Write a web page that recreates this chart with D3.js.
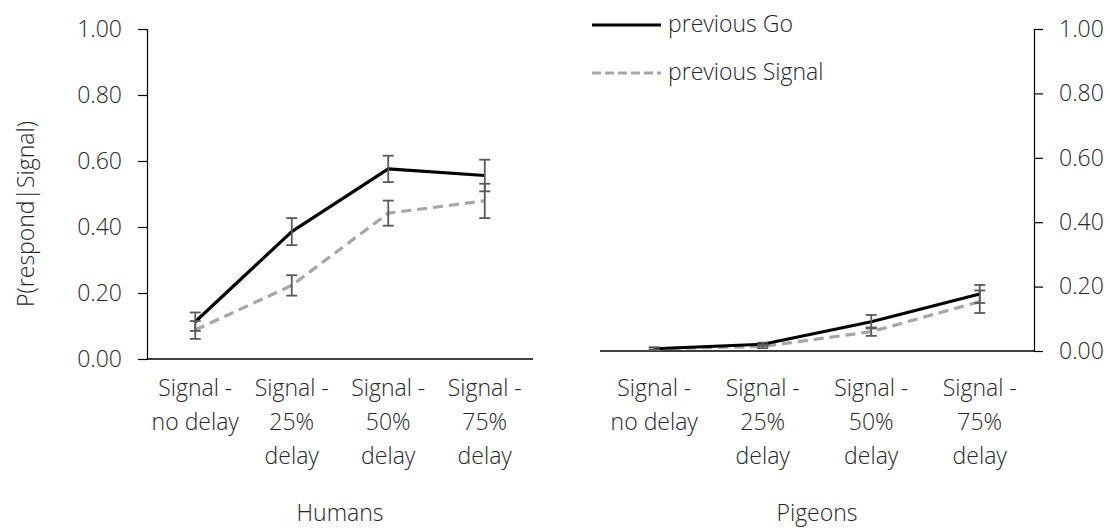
<!DOCTYPE html>
<html>
<head>
<meta charset="utf-8">
<script src="https://cdn.jsdelivr.net/npm/d3@7"></script>
<style>
  html, body { margin: 0; padding: 0; background: #fff; }
  svg text { font-family: "Open Sans", Lato, sans-serif; font-weight: 300; fill: #262626; }
</style>
</head>
<body>
<svg id="chart" width="1110" height="530"></svg>
<script>
// Category labels (lines of each wrapped label)
const categories = ["Signal - no delay", "Signal - 25% delay", "Signal - 50% delay", "Signal - 75% delay"];
const categoryLinesHumans = [["Signal -", "no delay"], ["Signal -", "25%", "delay"], ["Signal -", "50%", "delay"], ["Signal -", "75%", "delay"]];
const categoryLinesPigeons = [["Signal -", "no delay"], ["Signal -", "25%", "delay"], ["Signal -", "50%", "delay"], ["Signal -", "75%", "delay"]];
const yTicks = [0, 0.2, 0.4, 0.6, 0.8, 1.0];

// Humans: P(respond|Signal) after a Go trial vs. after a Signal trial
const humansGo = [0.113, 0.386, 0.576, 0.556];
const humansGoErr = [0.028, 0.041, 0.040, 0.048];
const humansSignal = [0.088, 0.223, 0.442, 0.479];
const humansSignalErr = [0.027, 0.031, 0.038, 0.052];

// Pigeons
const pigeonsGo = [0.007, 0.021, 0.091, 0.177];
const pigeonsGoErr = [0.004, 0.005, 0.021, 0.028];
const pigeonsSignal = [0.007, 0.014, 0.060, 0.153];
const pigeonsSignalErr = [0.004, 0.005, 0.013, 0.035];

const seriesNames = ["previous Go", "previous Signal"];
const panelTitles = ["Humans", "Pigeons"];

const svg = d3.select("#chart");
const fontSize = 23;
const goStyle = { stroke: "#000000", width: 3.2, dash: null };
const sigStyle = { stroke: "#A6A6A6", width: 3.2, dash: "10,6" };
const errColor = "#595959";

function panel(opts) {
  const { x0, x1, yTop, yBottom, axisSide, go, goErr, sig, sigErr, lines, title } = opts;
  const x = d3.scaleBand().domain(categories).range([x0, x1]);
  const y = d3.scaleLinear().domain([0, 1]).range([yBottom, yTop]);
  const g = svg.append("g");

  // y axis
  const axisX = axisSide === "left" ? x0 : x1;
  const yAxis = (axisSide === "left" ? d3.axisLeft(y) : d3.axisRight(y))
    .tickValues(yTicks).tickFormat(d3.format(".2f")).tickSizeOuter(0).tickSize(9).tickPadding(16);
  const ya = g.append("g").attr("transform", `translate(${axisX},0)`).call(yAxis);
  ya.attr("font-family", null).attr("font-size", null);
  ya.select(".domain").attr("stroke", "#000").attr("stroke-width", 1.2);
  ya.selectAll(".tick line").attr("stroke", "#000").attr("stroke-width", 1.2);
  ya.selectAll(".tick text").attr("font-size", fontSize).attr("fill", null);

  // x axis baseline
  g.append("line")
    .attr("x1", x0).attr("x2", x1)
    .attr("y1", y(0)).attr("y2", y(0))
    .attr("stroke", "#000").attr("stroke-width", 1.6);

  // category labels
  categories.forEach((c, i) => {
    const t = g.append("text")
      .attr("x", x(c) + x.bandwidth() / 2)
      .attr("text-anchor", "middle")
      .attr("font-size", fontSize);
    lines[i].forEach((ln, j) => {
      t.append("tspan").attr("x", x(c) + x.bandwidth() / 2).attr("y", 396 + j * 34).text(ln);
    });
  });

  // panel title
  g.append("text")
    .attr("x", (x0 + x1) / 2).attr("y", 521)
    .attr("text-anchor", "middle").attr("font-size", fontSize)
    .text(title);

  const cx = (i) => x(categories[i]) + x.bandwidth() / 2;
  const line = d3.line().x((d, i) => cx(i)).y((d) => y(d));

  function errorBars(vals, errs) {
    const eb = g.append("g").attr("stroke", errColor).attr("stroke-width", 1.8);
    vals.forEach((v, i) => {
      const xi = cx(i);
      eb.append("line").attr("x1", xi).attr("x2", xi).attr("y1", y(v + errs[i])).attr("y2", y(v - errs[i]));
      eb.append("line").attr("x1", xi - 5.5).attr("x2", xi + 5.5).attr("y1", y(v + errs[i])).attr("y2", y(v + errs[i]));
      eb.append("line").attr("x1", xi - 5.5).attr("x2", xi + 5.5).attr("y1", y(v - errs[i])).attr("y2", y(v - errs[i]));
    });
  }

  function series(vals, st) {
    g.append("path").datum(vals)
      .attr("d", line)
      .attr("fill", "none")
      .attr("stroke", st.stroke)
      .attr("stroke-width", st.width)
      .attr("stroke-dasharray", st.dash)
      .attr("stroke-linejoin", "round");
  }

  series(sig, sigStyle);
  series(go, goStyle);
  errorBars(sig, sigErr);
  errorBars(go, goErr);
}

panel({ x0: 147, x1: 533, yTop: 29, yBottom: 359, axisSide: "left",
  go: humansGo, goErr: humansGoErr, sig: humansSignal, sigErr: humansSignalErr,
  lines: categoryLinesHumans, title: panelTitles[0] });

panel({ x0: 600, x1: 1034, yTop: 29, yBottom: 351, axisSide: "right",
  go: pigeonsGo, goErr: pigeonsGoErr, sig: pigeonsSignal, sigErr: pigeonsSignalErr,
  lines: categoryLinesPigeons, title: panelTitles[1] });

// y axis title
svg.append("text")
  .attr("transform", "translate(34,214) rotate(-90)")
  .attr("text-anchor", "middle")
  .attr("font-size", fontSize)
  .text("P(respond|Signal)");

// legend
const legend = svg.append("g");
[goStyle, sigStyle].forEach((st, i) => {
  const ly = 25 + i * 48;
  legend.append("line")
    .attr("x1", 592).attr("x2", 661).attr("y1", ly).attr("y2", ly)
    .attr("stroke", st.stroke).attr("stroke-width", st.width)
    .attr("stroke-dasharray", st.dash ? "9,4" : null);
  legend.append("text")
    .attr("x", 668).attr("y", ly + 7)
    .attr("font-size", fontSize)
    .text(seriesNames[i]);
});
</script>
</body>
</html>
